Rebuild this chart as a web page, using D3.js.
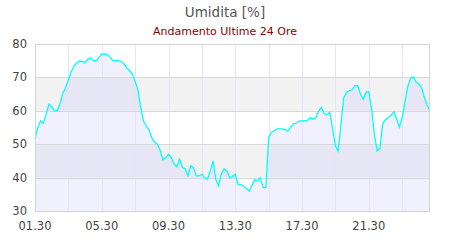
<!DOCTYPE html>
<html>
<head>
<meta charset="utf-8">
<script src="https://cdn.jsdelivr.net/npm/d3@7"></script>
<style>
  body { margin: 0; background: #fff; }
  svg { display: block; font-family: "DejaVu Sans", sans-serif; }
</style>
</head>
<body>
<svg></svg>
<script>
// readings every 10 minutes starting at 01:30
const startTime = new Date(2024, 0, 1, 1, 30);
const stepMinutes = 10;

const humidity = [
    51.5, 55, 57, 56.3, 59, 62, 61.2, 60, 60, 62.2,
    65.2, 67, 69.3, 71.7, 73.4, 74.3, 74.9, 74.8, 74.4, 75.5,
    75.8, 75, 75, 76, 77, 77, 76.9, 76, 75, 75,
    75, 74.8, 74, 72.9, 72, 71, 68.8, 66.2, 61, 56.9,
    55.5, 54.3, 51.9, 50.5, 50, 48.2, 45.3, 46, 47, 46,
    44, 43.2, 45.5, 43, 42.7, 40.5, 43.6, 43, 40.5, 40.5,
    41, 40, 39.5, 42, 45, 39.5, 37.5, 41.2, 42.6, 42,
    40, 40.3, 41, 38, 38, 37.4, 36.7, 36, 37.6, 39.4,
    39, 40, 37, 37, 52, 53.6, 54, 54.6, 54.6, 54.6,
    54.3, 54, 55.2, 56.2, 56.3, 57, 57, 57, 57.2, 58,
    57.5, 58, 60, 61, 59.1, 58.8, 59.5, 54.5, 49.5, 48,
    56, 64, 65.5, 66, 66.3, 67.5, 67.5, 65, 63.5, 65.6,
    65.8, 60.5, 53, 48, 48.8, 56.3, 57.3, 58, 58.6, 59.7,
    57.5, 55.2, 58, 62.5, 67.2, 69.7, 70.2, 68.6, 68.1, 66.8,
    64, 61.5, 60
];

const yTicks = [30, 40, 50, 60, 70, 80];
const bands = [[40, 50], [60, 70]];
const gridHours = d3.range(0, 24, 2);
const labelHours = d3.range(0, 24, 4);

const titleText = "Umidita [%]";
const subtitleText = "Andamento Ultime 24 Ore";

const width = 450, height = 240;
const margin = { top: 44, right: 20, bottom: 29, left: 35 };

const svg = d3.select("svg")
    .attr("width", width)
    .attr("height", height);

const data = humidity.map((v, i) => ({
    time: d3.timeMinute.offset(startTime, i * stepMinutes),
    value: v
}));

const x = d3.scaleTime()
    .domain(d3.extent(data, d => d.time))
    .range([margin.left, width - margin.right]);

const y = d3.scaleLinear()
    .domain([30, 80])
    .range([height - margin.bottom, margin.top]);

const fmt = d3.timeFormat("%H.%M");

// bands
svg.append("g")
    .selectAll("rect")
    .data(bands)
    .enter().append("rect")
    .attr("x", margin.left)
    .attr("width", width - margin.right - margin.left)
    .attr("y", d => y(d[1]))
    .attr("height", d => y(d[0]) - y(d[1]))
    .attr("fill", "#f2f2f2");

// area
const area = d3.area()
    .x(d => x(d.time))
    .y0(y(30))
    .y1(d => y(d.value));

svg.append("path")
    .datum(data)
    .attr("d", area)
    .attr("fill", "rgb(190,190,250)")
    .attr("fill-opacity", 0.23);

// vertical grid
svg.append("g")
    .selectAll("line")
    .data(gridHours.map(h => d3.timeHour.offset(startTime, h)))
    .enter().append("line")
    .attr("x1", d => Math.round(x(d)) + 0.5)
    .attr("x2", d => Math.round(x(d)) + 0.5)
    .attr("y1", margin.top)
    .attr("y2", height - margin.bottom)
    .attr("stroke", "#e4e4fa");

// horizontal grid
svg.append("g")
    .selectAll("line")
    .data(yTicks)
    .enter().append("line")
    .attr("x1", margin.left)
    .attr("x2", width - margin.right)
    .attr("y1", d => Math.round(y(d)) + 0.5)
    .attr("y2", d => Math.round(y(d)) + 0.5)
    .attr("stroke", "#d8d8d8");

// line
const line = d3.line()
    .x(d => x(d.time))
    .y(d => y(d.value));

svg.append("path")
    .datum(data)
    .attr("d", line)
    .attr("fill", "none")
    .attr("stroke", "#00ffff")
    .attr("stroke-width", 1.3);

// border
svg.append("rect")
    .attr("x", margin.left + 0.5)
    .attr("y", Math.round(y(80)) + 0.5)
    .attr("width", width - margin.right - margin.left - 1)
    .attr("height", Math.round(y(30)) - Math.round(y(80)))
    .attr("fill", "none")
    .attr("stroke", "#d4d4d4");

// y labels
svg.append("g")
    .selectAll("text")
    .data(yTicks)
    .enter().append("text")
    .attr("x", 27)
    .attr("y", d => y(d) + 4)
    .attr("text-anchor", "end")
    .attr("font-size", 11.5)
    .attr("fill", "#444")
    .text(d => d);

// x labels
svg.append("g")
    .selectAll("text")
    .data(labelHours.map(h => d3.timeHour.offset(startTime, h)))
    .enter().append("text")
    .attr("x", d => x(d))
    .attr("y", 230)
    .attr("text-anchor", "middle")
    .attr("font-size", 11.5)
    .attr("fill", "#444")
    .text(d => fmt(d));

// titles
svg.append("text")
    .attr("x", 225)
    .attr("y", 17)
    .attr("text-anchor", "middle")
    .attr("font-size", 13.5)
    .attr("fill", "#555")
    .text(titleText);

svg.append("text")
    .attr("x", 225)
    .attr("y", 35)
    .attr("text-anchor", "middle")
    .attr("font-size", 11)
    .attr("fill", "#8b0000")
    .text(subtitleText);
</script>
</body>
</html>
